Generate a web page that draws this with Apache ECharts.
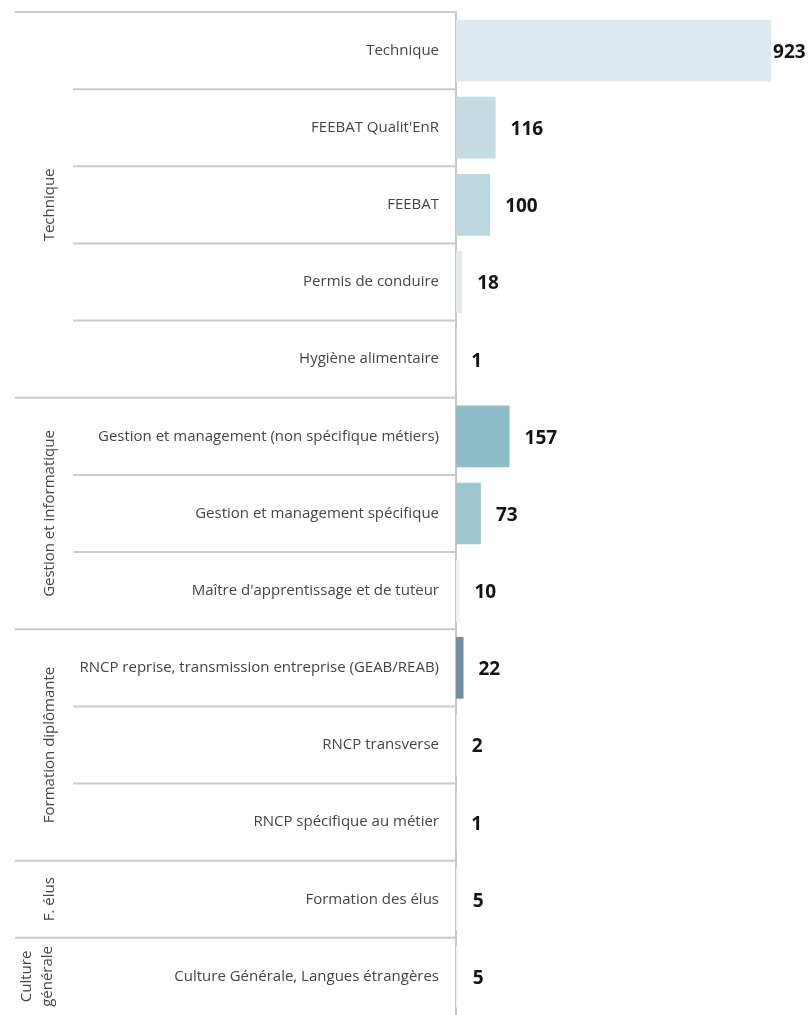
<!DOCTYPE html>
<html>
<head>
<meta charset="utf-8">
<script src="https://cdn.jsdelivr.net/npm/echarts@6/dist/echarts.min.js"></script>
<style>
html,body{margin:0;padding:0;background:#fff;}
#c{width:809px;height:1015px;}
</style>
</head>
<body>
<div id="c"></div>
<script>
const categories = [
  "Technique",
  "FEEBAT Qualit'EnR",
  "FEEBAT",
  "Permis de conduire",
  "Hygiène alimentaire",
  "Gestion et management (non spécifique métiers)",
  "Gestion et management spécifique",
  "Maître d'apprentissage et de tuteur",
  "RNCP reprise, transmission entreprise (GEAB/REAB)",
  "RNCP transverse",
  "RNCP spécifique au métier",
  "Formation des élus",
  "Culture Générale, Langues étrangères"
];
const values = [923, 116, 100, 18, 1, 157, 73, 10, 22, 2, 1, 5, 5];
const barColors = ["#dfe9ef", "#c6dce3", "#bdd7e0", "#e4eaec", "#eef2f3", "#8ebcc8", "#9dc6d1", "#eef4f6", "#6e8ea0", "#eef2f3", "#eef2f3", "#f0f2f3", "#f0f2f3"];
const groupNames = ["Technique", "Gestion et informatique", "Formation diplômante", "F. élus", "Culture\ngénérale"];
const groupSizes = [5, 3, 3, 1, 1];

const FONT = "Open Sans";

const rowGroups = [];
groupSizes.forEach((n, g) => {
  for (let k = 0; k < n; k++) rowGroups.push({ group: g, first: k === 0, size: n });
});
const sepData = categories.map((c, i) => [i, rowGroups[i].first ? 1 : 0, rowGroups[i].size, rowGroups[i].group]);

const chart = echarts.init(document.getElementById('c'), null, { renderer: 'canvas' });

const option = {
  animation: false,
  backgroundColor: '#ffffff',
  grid: [
    { left: 456, right: 0, top: 12, height: 1009, containLabel: false },
    { left: 15, width: 440, top: 12, height: 1009, containLabel: false }
  ],
  xAxis: [
    { type: 'value', gridIndex: 0, min: 0, max: 1034, show: false },
    { type: 'value', gridIndex: 1, min: 0, max: 1, show: false }
  ],
  yAxis: [
    {
      type: 'category', gridIndex: 0, inverse: true, data: categories,
      axisLine: { show: true, lineStyle: { color: '#c9c9c9', width: 2 } },
      axisTick: { show: false },
      splitLine: { show: false },
      axisLabel: { color: '#454545', fontFamily: FONT, fontSize: 15, margin: 17 }
    },
    {
      type: 'category', gridIndex: 1, inverse: true, data: categories, show: false
    }
  ],
  series: [
    {
      type: 'bar', xAxisIndex: 0, yAxisIndex: 0,
      barCategoryGap: '20%',
      data: values.map((v, i) => ({
        value: v,
        itemStyle: { color: barColors[i] },
        label: { distance: i === 0 ? 2 : 15 }
      })),
      label: {
        show: true, position: 'right', color: '#141414',
        fontFamily: FONT, fontWeight: 'bold', fontSize: 19, offset: [0, 2]
      }
    },
    {
      type: 'custom', xAxisIndex: 1, yAxisIndex: 1,
      data: sepData,
      encode: { y: 0 },
      renderItem: function (params, api) {
        const idx = api.value(0);
        const isFirst = api.value(1) === 1;
        const size = api.value(2);
        const g = api.value(3);
        const band = api.size([0, 1])[1];
        const c = api.coord([0, idx]);
        const yTop = c[1] - band / 2;
        const xStart = api.coord([isFirst ? 0 : 0.132, idx])[0];
        const xEnd = api.coord([1, idx])[0];
        const children = [{
          type: 'line',
          shape: { x1: xStart, y1: yTop, x2: xEnd, y2: yTop },
          style: { stroke: '#cccccc', lineWidth: 2 }
        }];
        if (isFirst) {
          const yEnd = yTop + band * size;
          children.push({
            type: 'text',
            x: api.coord([g === 4 ? 0.05 : 0.08, idx])[0],
            y: (yTop + yEnd) / 2,
            rotation: Math.PI / 2,
            style: {
              text: groupNames[g],
              fill: '#454545',
              font: '15px "' + FONT + '"',
              align: 'center',
              verticalAlign: 'middle',
              lineHeight: 21
            }
          });
        }
        return { type: 'group', children: children };
      }
    }
  ]
};
chart.setOption(option);
</script>
</body>
</html>
